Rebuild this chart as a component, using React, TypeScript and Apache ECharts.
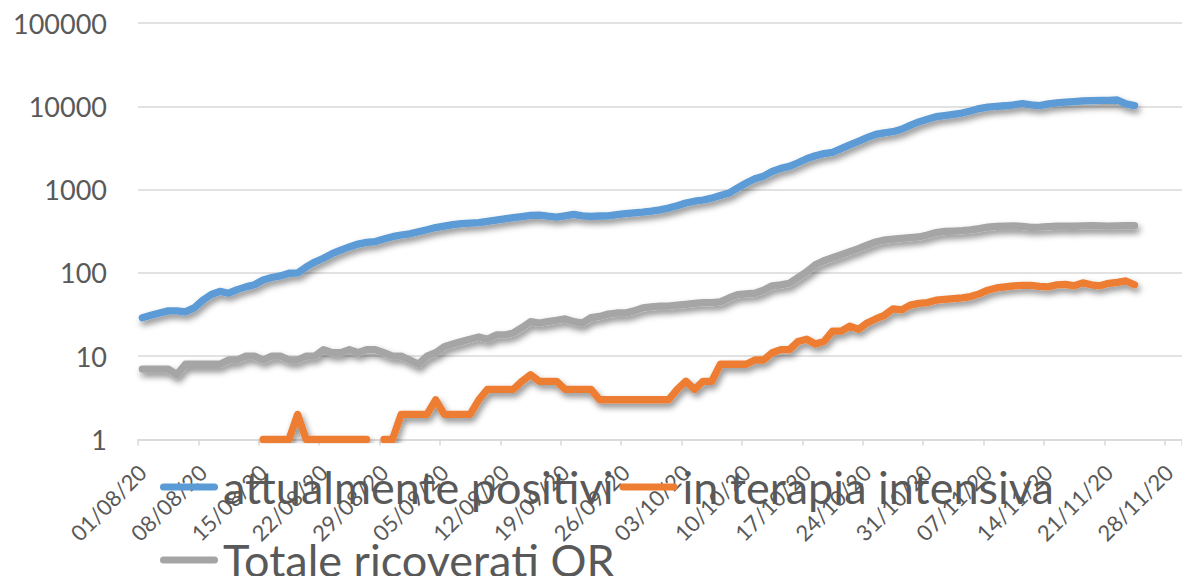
import React, { useEffect, useRef } from "react";
import * as echarts from "echarts";

// 01/08/20 .. 29/11/20 (x axis range), daily
const firstDay = Date.UTC(2020, 7, 1);
const dayCount = 121;
const categories: string[] = [];
for (let i = 0; i < dayCount; i++) {
  const d = new Date(firstDay + i * 86400000);
  const dd = String(d.getUTCDate()).padStart(2, "0");
  const mm = String(d.getUTCMonth() + 1).padStart(2, "0");
  categories.push(`${dd}/${mm}/20`);
}

const seriesNames = ["attualmente positivi", "in terapia intensiva", "Totale ricoverati OR"];

// daily values from 01/08/20 to 24/11/20
const attualmentePositivi = [
  29, 31, 33, 35, 35, 34, 38, 47, 55, 60,
  57, 63, 68, 72, 82, 88, 92, 99, 100, 118,
  135, 150, 170, 188, 205, 222, 232, 238, 255, 272,
  285, 295, 312, 330, 350, 365, 380, 390, 396, 402,
  415, 430, 445, 460, 475, 490, 495, 480, 468, 485,
  505, 485, 478, 482, 485, 500, 515, 525, 535, 550,
  570, 600, 640, 690, 725, 750, 790, 850, 910, 1050,
  1200, 1350, 1450, 1650, 1800, 1900, 2100, 2350, 2550, 2700,
  2800, 3100, 3450, 3800, 4200, 4600, 4800, 4950, 5300, 5900,
  6500, 7000, 7500, 7750, 8000, 8300, 8800, 9400, 9800, 10000,
  10150, 10400, 10800, 10400, 10200, 10700, 11000, 11200, 11400, 11600,
  11700, 11750, 11800, 11900, 10700, 10200,
];

const terapiaIntensiva = [
  null, null, null, null, null, null, null, null, null, null,
  null, null, null, null, 1, 1, 1, 1, 2, 1,
  1, 1, 1, 1, 1, 1, 1, null, 1, 1,
  2, 2, 2, 2, 3, 2, 2, 2, 2, 3,
  4, 4, 4, 4, 5, 6, 5, 5, 5, 4,
  4, 4, 4, 3, 3, 3, 3, 3, 3, 3,
  3, 3, 4, 5, 4, 5, 5, 8, 8, 8,
  8, 9, 9, 11, 12, 12, 15, 16, 14, 15,
  20, 20, 23, 21, 25, 28, 31, 37, 36, 41,
  43, 44, 47, 48, 49, 50, 52, 56, 62, 66,
  68, 70, 71, 71, 69, 68, 72, 73, 70, 76,
  72, 70, 75, 77, 80, 72,
];

const totaleRicoverati = [
  7, 7, 7, 7, 6, 8, 8, 8, 8, 8,
  9, 9, 10, 10, 9, 10, 10, 9, 9, 10,
  10, 12, 11, 11, 12, 11, 12, 12, 11, 10,
  10, 9, 8, 10, 11, 13, 14, 15, 16, 17,
  16, 18, 18, 19, 22, 26, 25, 26, 27, 28,
  26, 25, 29, 30, 32, 33, 33, 35, 38, 39,
  40, 40, 41, 42, 43, 44, 44, 45, 50, 55,
  56, 57, 62, 70, 72, 75, 88, 103, 125, 140,
  152, 165, 180, 195, 215, 235, 248, 255, 260, 265,
  270, 285, 305, 315, 318, 322, 328, 340, 355, 362,
  365, 367, 362, 352, 355, 360, 365, 365, 363, 366,
  368, 366, 365, 367, 368, 368,
];

const seriesColors = ["#5B9BD5", "#ED7D31", "#A5A5A5"];
const seriesData = [attualmentePositivi, terapiaIntensiva, totaleRicoverati];

const FONT = "Lato";
const TEXT = "#595959";
const GRID = "#D9D9D9";

const legendBase = {
  left: 160,
  padding: 0,
  itemWidth: 58,
  itemHeight: 7.3,
  itemGap: 6,
  icon: "path://M3.5,0 H54.5 A3.5,3.5 0 0 1 54.5,7 H3.5 A3.5,3.5 0 0 1 3.5,0 Z",
  textStyle: { fontSize: 45, fontFamily: FONT, color: TEXT, lineHeight: 30, padding: [0, 0, 11, 0] },
};

export default function App() {
  const ref = useRef<HTMLDivElement>(null);
  useEffect(() => {
    if (!ref.current) return;
    const chart = echarts.init(ref.current, undefined, { renderer: "svg" });
    chart.setOption({
      animation: false,
      textStyle: { fontFamily: FONT },
      grid: { left: 138, right: 0, top: 23, height: 416.5, containLabel: false },
      xAxis: {
        type: "category",
        data: categories,
        boundaryGap: true,
        axisLine: { show: true, lineStyle: { color: GRID, width: 1.5 } },
        axisTick: { show: true, interval: 6, length: 6, lineStyle: { color: GRID, width: 1.5 } },
        axisLabel: {
          interval: 6,
          rotate: 45,
          fontSize: 22,
          fontFamily: FONT,
          color: TEXT,
          margin: 29,
        },
        splitLine: { show: false },
      },
      yAxis: {
        type: "log",
        logBase: 10,
        min: 1,
        max: 100000,
        axisLine: { show: false },
        axisTick: { show: false },
        axisLabel: {
          fontSize: 27,
          fontFamily: FONT,
          color: TEXT,
          margin: 31,
          formatter: (v: number) => String(Math.round(v)),
        },
        splitLine: { show: true, lineStyle: { color: GRID, width: 1.5 } },
      },
      legend: [
        { ...legendBase, top: 464.5, data: [seriesNames[0], seriesNames[1]] },
        { ...legendBase, top: 537.5, data: [seriesNames[2]] },
      ],
      series: seriesNames.map((name, i) => ({
        name,
        type: "line",
        data: seriesData[i],
        symbol: "none",
        showSymbol: false,
        connectNulls: false,
        itemStyle: { color: seriesColors[i] },
        lineStyle: {
          color: seriesColors[i],
          width: 7.3,
          cap: "round",
          join: "round",
          shadowColor: "rgba(0,0,0,0.45)",
          shadowBlur: 6,
          shadowOffsetX: 2,
          shadowOffsetY: 4,
        },
      })),
    });
    return () => chart.dispose();
  }, []);
  return (
    <div
      ref={ref}
      style={{ position: "fixed", left: 0, top: 0, width: 1182, height: 576, background: "#fff" }}
    />
  );
}
